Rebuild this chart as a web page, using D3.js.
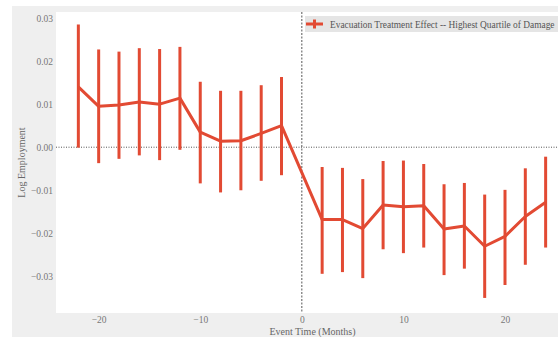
<!DOCTYPE html>
<html>
<head>
<meta charset="utf-8">
<script src="https://cdn.jsdelivr.net/npm/d3@7"></script>
<style>
  html, body { margin: 0; padding: 0; background: #ffffff; }
  svg { display: block; overflow: hidden; }
</style>
</head>
<body>
<svg id="chart" width="558" height="337"></svg>
<script>
// Event-study estimates: months relative to evacuation, point estimate and CI bounds
const eventMonths = [-22, -20, -18, -16, -14, -12, -10, -8, -6, -4, -2,
                     2, 4, 6, 8, 10, 12, 14, 16, 18, 20, 22, 24];
const effect = [0.0140, 0.0095, 0.0098, 0.0105, 0.0100, 0.0114, 0.0035, 0.0014, 0.0015, 0.0032, 0.0050,
                -0.0168, -0.0168, -0.0189, -0.0134, -0.0138, -0.0136, -0.0190, -0.0183, -0.0230, -0.0207, -0.0161, -0.0128];
const ciLow = [-0.0001, -0.0037, -0.0027, -0.0019, -0.0030, -0.0006, -0.0084, -0.0105, -0.0100, -0.0078, -0.0065,
               -0.0294, -0.0290, -0.0304, -0.0237, -0.0246, -0.0233, -0.0297, -0.0282, -0.0350, -0.0320, -0.0273, -0.0233];
const ciHigh = [0.0285, 0.0227, 0.0222, 0.0230, 0.0228, 0.0233, 0.0152, 0.0131, 0.0131, 0.0144, 0.0163,
                -0.0046, -0.0048, -0.0074, -0.0032, -0.0031, -0.0039, -0.0086, -0.0083, -0.0110, -0.0099, -0.0049, -0.0022];
const xTicks = [-20, -10, 0, 10, 20];
const yTicks = [-0.03, -0.02, -0.01, 0.00, 0.01, 0.02, 0.03];
const legendLabel = "Evacuation Treatment Effect -- Highest Quartile of Damage";

const rows = eventMonths.map((m, i) => ({ m, v: effect[i], lo: ciLow[i], hi: ciHigh[i] }));

const svg = d3.select("#chart");
const red = "#e24a33";
const serif = "'Liberation Serif', 'DejaVu Serif', serif";

const plot = { left: 56, top: 12, right: 569, bottom: 313 };

// figure background
svg.append("rect").attr("x", 12).attr("y", 6).attr("width", 560).attr("height", 340).attr("fill", "#efefef");
svg.append("rect").attr("x", plot.left).attr("y", plot.top)
  .attr("width", plot.right - plot.left).attr("height", plot.bottom - plot.top).attr("fill", "#ffffff");

const x = d3.scaleLinear().domain([-24.2, 26.3]).range([plot.left, plot.right]);
const y = d3.scaleLinear().domain([-0.0385, 0.0314]).range([plot.bottom, plot.top]);

const fmtY = v => (v < 0 ? "\u2212" : "") + Math.abs(v).toFixed(2);
const fmtX = v => (v < 0 ? "\u2212" : "") + Math.abs(v);

// axes (labels only, no tick marks or domain lines)
const yAxis = svg.append("g").attr("transform", `translate(${plot.left},0)`)
  .call(d3.axisLeft(y).tickValues(yTicks).tickFormat(fmtY).tickSize(0).tickPadding(3));
const xAxis = svg.append("g").attr("transform", `translate(0,${plot.bottom})`)
  .call(d3.axisBottom(x).tickValues(xTicks).tickFormat(fmtX).tickSize(0).tickPadding(3));
[yAxis, xAxis].forEach(g => {
  g.select(".domain").remove();
  g.selectAll("text").attr("fill", "#777").style("font-family", serif).style("font-size", "9.5px");
});

// reference lines
svg.append("line")
  .attr("x1", plot.left).attr("x2", plot.right).attr("y1", y(0)).attr("y2", y(0))
  .attr("stroke", "#555").attr("stroke-width", 1).attr("stroke-dasharray", "1,1.5");
svg.append("line")
  .attr("x1", x(0)).attr("x2", x(0)).attr("y1", plot.top).attr("y2", plot.bottom)
  .attr("stroke", "#555").attr("stroke-width", 1).attr("stroke-dasharray", "2,1.5");

// confidence intervals
svg.append("g").selectAll("line").data(rows).join("line")
  .attr("x1", d => x(d.m)).attr("x2", d => x(d.m))
  .attr("y1", d => y(d.lo)).attr("y2", d => y(d.hi))
  .attr("stroke", red).attr("stroke-width", 3);

// point estimate line
svg.append("path").datum(rows)
  .attr("d", d3.line().x(d => x(d.m)).y(d => y(d.v)))
  .attr("fill", "none").attr("stroke", red).attr("stroke-width", 3).attr("stroke-linejoin", "round");

// legend
const lg = svg.append("g");
lg.append("rect").attr("x", 305).attr("y", 16).attr("width", 270).attr("height", 16).attr("fill", "#e5e5e5");
lg.append("line").attr("x1", 306).attr("x2", 323).attr("y1", 24).attr("y2", 24).attr("stroke", red).attr("stroke-width", 3);
lg.append("line").attr("x1", 314.5).attr("x2", 314.5).attr("y1", 19.5).attr("y2", 28.5).attr("stroke", red).attr("stroke-width", 3);
lg.append("text").attr("x", 330).attr("y", 27.5).text(legendLabel)
  .attr("fill", "#555").style("font-family", serif).style("font-size", "9.4px");

// axis titles
svg.append("text").attr("x", (plot.left + plot.right) / 2).attr("y", 335)
  .attr("text-anchor", "middle").text("Event Time (Months)")
  .attr("fill", "#666").style("font-family", serif).style("font-size", "10px");
svg.append("text").attr("transform", `translate(25,${(plot.top + plot.bottom) / 2}) rotate(-90)`)
  .attr("text-anchor", "middle").text("Log Employment")
  .attr("fill", "#666").style("font-family", serif).style("font-size", "10px");
</script>
</body>
</html>
